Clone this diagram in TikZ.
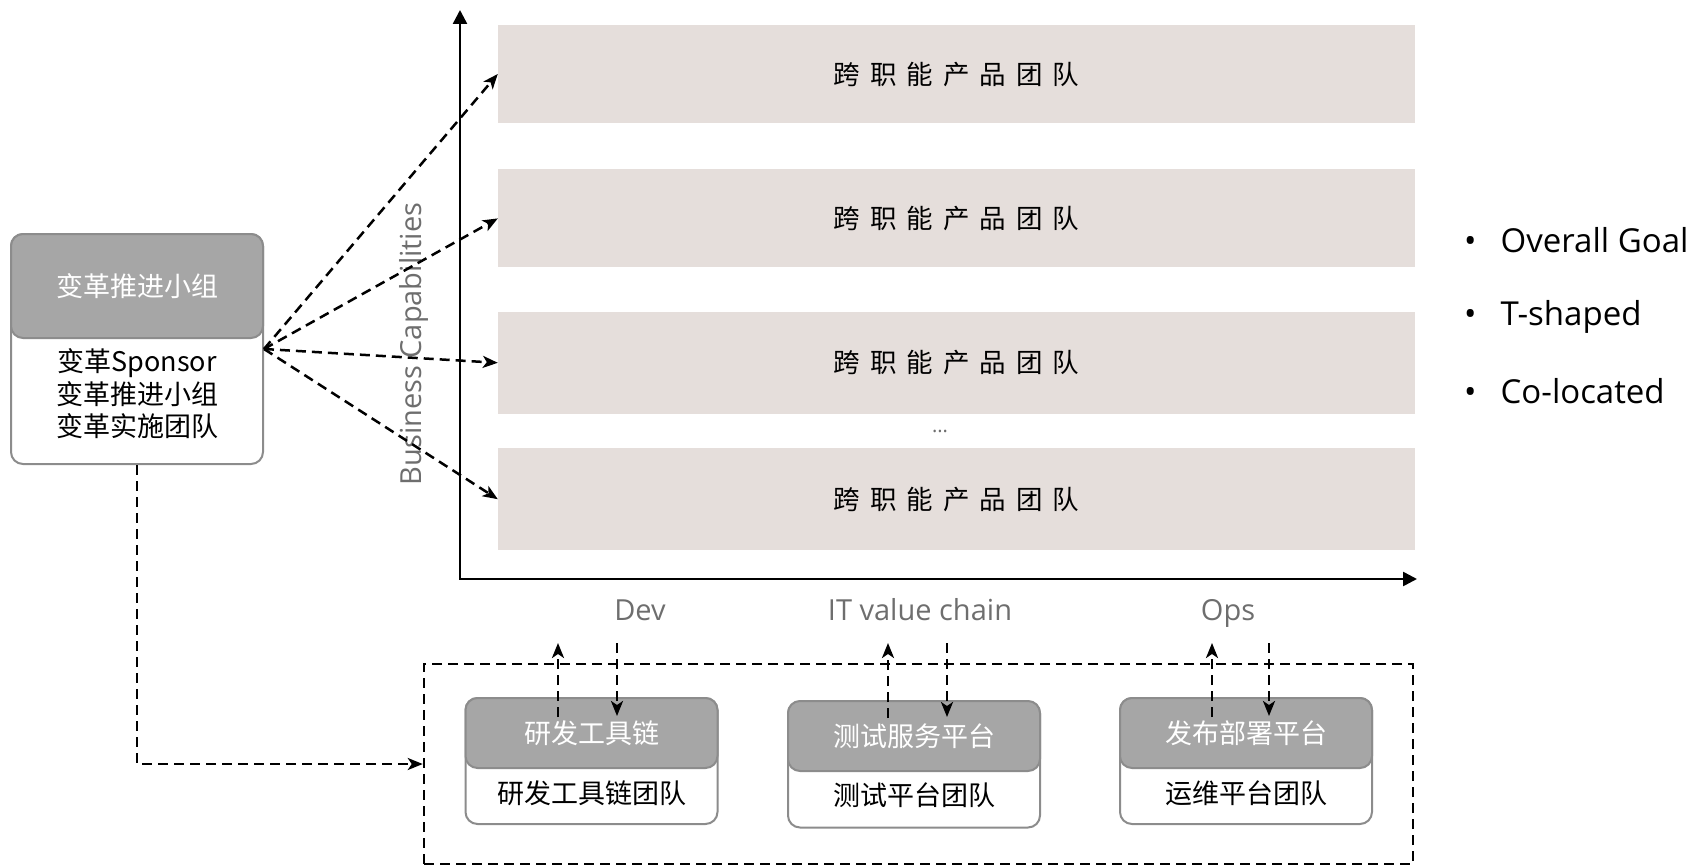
\documentclass[tikz,border=0pt]{standalone}
\usepackage{fontspec}
\setmainfont{Open Sans}
\newfontfamily\cjk{Noto Sans CJK SC}
\usetikzlibrary{positioning, arrows.meta, calc}

\definecolor{bargray}{HTML}{E5DEDB}
\definecolor{headgray}{HTML}{A6A6A6}
\definecolor{linegray}{HTML}{8C8C8C}
\definecolor{txtgray}{HTML}{6E6E6E}

\begin{document}
\begin{tikzpicture}[x=1pt, y=-1pt,
% Define custom styles for nodes
    bar/.style={
        fill=bargray,
        minimum width=917pt,
        minimum height=98pt,
        inner sep=0pt,
        font=\cjk\fontsize{26.5}{30}\selectfont,
        execute at begin node={\spaceskip=10pt\relax}
        },
    outerbox/.style={
        draw=linegray,
        line width=2pt,
        fill=white,
        rounded corners=12pt,
        minimum width=252pt,
        inner sep=0pt
        },
    headbox/.style={
        outerbox,
        fill=headgray,
        text=white,
        font=\cjk\fontsize{27}{30}\selectfont
        },
    bodytext/.style={font=\cjk\fontsize{27}{32.5}\selectfont, align=center, inner sep=0pt},
    lbl/.style={text=txtgray, font=\fontsize{29}{34}\selectfont, inner sep=0pt, anchor=base},
    item/.style={font=\fontsize{33}{38}\selectfont, inner sep=0pt, anchor=base west},
    dashline/.style={line width=2.5pt, dash pattern=on 10pt off 6pt},
    axis/.style={line width=2.5pt, {Triangle[length=14pt,width=14pt]}-{Triangle[length=14pt,width=14pt]}},
    >={Stealth[length=15pt,width=12pt,inset=4pt]}
]
\useasboundingbox (0,0) rectangle (1694,867);

% axes
\coordinate (ytop) at (460,10);
\coordinate (xend) at (1417,579);
\draw[axis] (ytop) |- (xend);

\node[rotate=90, text=txtgray, font=\fontsize{29}{32}\selectfont] (bcap) at (414,344) {Business Capabilities};

% product teams
\node[bar] (bar1) at (956.5,74) {跨 职 能 产 品 团 队};
\node[bar, below=46pt of bar1] (bar2) {跨 职 能 产 品 团 队};
\node[bar, minimum height=102pt, below=44pt of bar2] (bar3) {跨 职 能 产 品 团 队};
\node[bar, minimum height=102pt, below=34pt of bar3] (bar4) {跨 职 能 产 品 团 队};
\node[text=txtgray, font=\fontsize{20}{24}\selectfont] (dots) at (940,431) {...};

% transformation group
\node[outerbox, minimum height=230pt] (chg) at (137,349) {};
\node[headbox, minimum height=104pt] (chghead) at (137,286) {变革推进小组};
\node[bodytext] (chgbody) at (137,394) {{\cjk 变革}Sponsor\\变革推进小组\\变革实施团队};

\path[dashline, ->] (chg.east) edge (bar1.west)
                               edge (bar2.west)
                               edge (bar3.west)
                               edge (bar4.west);

% platform teams
\node[draw, dashline, minimum width=989pt, minimum height=200pt] (team) at (918.5,764) {};
\draw[dashline, ->] (chg.south) |- (team.west);

\node[outerbox, minimum height=126pt] (tool) at (591.5,761) {};
\node[headbox, minimum height=70pt] (toolhead) at (591.5,733) {研发工具链};
\node[bodytext] (toolbody) at (591.5,793) {研发工具链团队};

\node[outerbox, minimum height=126pt] (test) at (914,764.5) {};
\node[headbox, minimum height=70pt] (testhead) at (914,736) {测试服务平台};
\node[bodytext] (testbody) at (914,795) {测试平台团队};

\node[outerbox, minimum height=126pt] (rel) at (1246,761) {};
\node[headbox, minimum height=70pt] (relhead) at (1246,733) {发布部署平台};
\node[bodytext] (relbody) at (1246,793) {运维平台团队};

\node[lbl] (dev) at (640,620) {Dev};
\node[lbl] (chain) at (920,620) {IT value chain};
\node[lbl] (ops) at (1228,620) {Ops};

\coordinate (devup) at (558,643);
\coordinate (devdn) at (617,643);
\coordinate (chainup) at (888,643);
\coordinate (chaindn) at (947,643);
\coordinate (opsup) at (1212,643);
\coordinate (opsdn) at (1269,643);

\draw[dashline, ->] ($(devup |- toolhead.north)+(0,20)$) -- (devup);
\draw[dashline, ->] (devdn) -- ($(devdn |- toolhead.north)+(0,19)$);
\draw[dashline, ->] ($(chainup |- testhead.north)+(0,18)$) -- (chainup);
\draw[dashline, ->] (chaindn) -- ($(chaindn |- testhead.north)+(0,17)$);
\draw[dashline, ->] ($(opsup |- relhead.north)+(0,20)$) -- (opsup);
\draw[dashline, ->] (opsdn) -- ($(opsdn |- relhead.north)+(0,19)$);

% goals
\node[item] (goal) at (1464,252) {•\hspace{24pt}Overall Goal};
\node[item] (tshape) at (1464,325) {•\hspace{24pt}T-shaped};
\node[item] (coloc) at (1464,403) {•\hspace{24pt}Co-located};

\end{tikzpicture}
\end{document}
